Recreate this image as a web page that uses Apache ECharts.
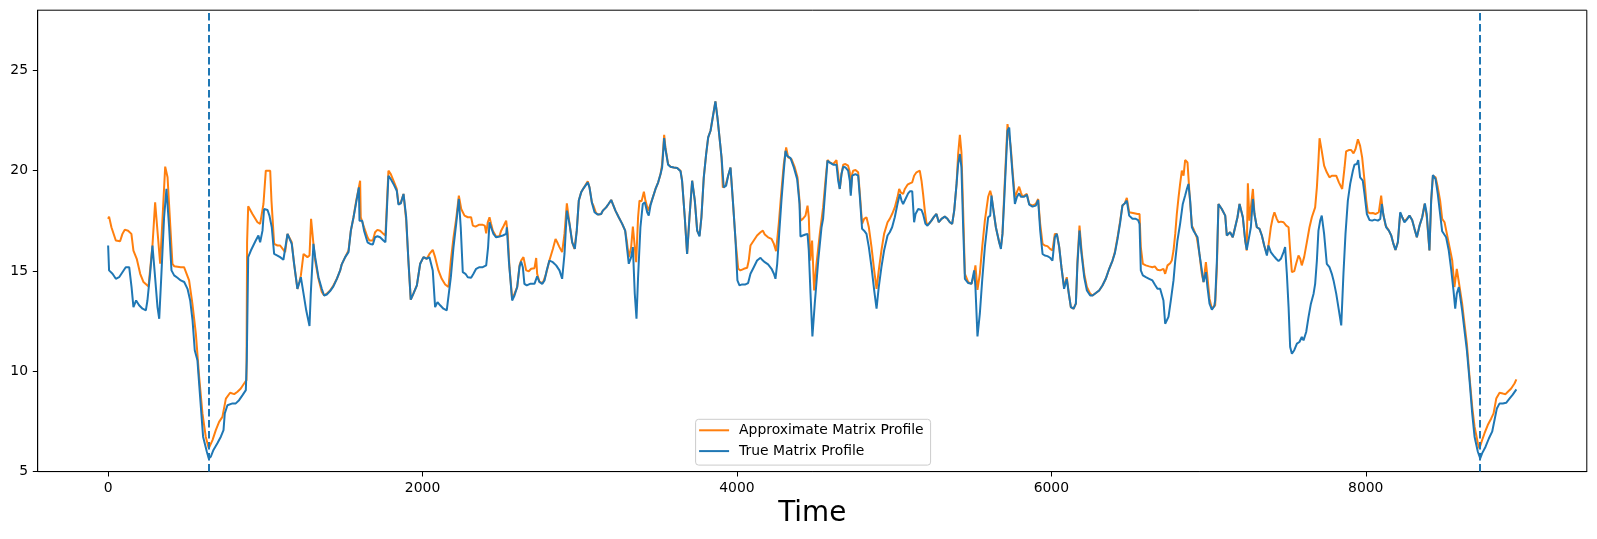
<!DOCTYPE html>
<html>
<head>
<meta charset="UTF-8">
<title>Matrix Profile</title>
<script src="https://cdn.jsdelivr.net/npm/echarts@6/dist/echarts.min.js"></script>
<style>
  html, body { margin: 0; padding: 0; background: #fff; }
  #main { width: 1597px; height: 539px; }
</style>
</head>
<body>
<div id="main"></div>
<script type="text/javascript">
// tick labels
var xTicks = [0, 2000, 4000, 6000, 8000];
var yTicks = [5, 10, 15, 20, 25];
// motif positions (dashed lines)
var motifIdx = [643, 8725];

// approximate matrix profile (orange)
var approxTime = [
  0, 6, 21, 49, 76, 91, 106, 127, 148, 161, 182, 204, 225, 257, 282, 299, 331, 363, 378, 409,
  420, 462, 483, 494, 515, 536, 558, 579, 600, 621, 640, 664, 685, 706, 727, 749, 776, 802, 823, 844,
  865, 880, 884, 891, 918, 950, 967, 988, 1003, 1031, 1039, 1056, 1077,
  1094, 1115, 1126, 1141, 1153, 1168, 1183, 1204, 1217, 1226, 1243, 1253, 1268, 1281, 1291, 1306, 1317, 1338,
  1359, 1374, 1391, 1412, 1433, 1455, 1476, 1486, 1508, 1529, 1544, 1561, 1578, 1595, 1603, 1607, 1616, 1628,
  1650, 1662, 1684, 1698, 1713, 1730, 1751, 1764, 1783, 1798, 1815, 1836, 1847, 1862, 1879, 1896, 1910, 1925,
  1942, 1964, 1985, 2006, 2027, 2044, 2065, 2080, 2101, 2122, 2144, 2165, 2180, 2197,
  2214, 2231, 2246, 2267, 2288, 2309, 2320, 2337, 2358, 2383, 2396, 2405, 2415, 2426, 2436, 2447, 2468, 2489,
  2500, 2515, 2532, 2542, 2553, 2570, 2585, 2602, 2617, 2627, 2642, 2659, 2676, 2691, 2712, 2723, 2729, 2744,
  2765, 2786, 2807, 2829, 2846, 2860, 2871, 2888, 2903, 2918, 2935, 2952, 2966, 2981, 2994, 3009, 3024, 3036,
  3051, 3062, 3077, 3087, 3104, 3121, 3136, 3147, 3168, 3183, 3200, 3210, 3227, 3248, 3270, 3289, 3299, 3312,
  3327, 3338,
  3344, 3359, 3371, 3380, 3393, 3408, 3418, 3435, 3450, 3465, 3482, 3499, 3514, 3524, 3537, 3545, 3562, 3577,
  3598, 3620, 3641, 3651, 3668, 3683, 3698, 3715, 3732, 3747, 3762, 3774, 3789, 3804, 3817, 3832, 3846, 3863,
  3876, 3889, 3902, 3910, 3927, 3944, 3959, 3974, 3991, 4008, 4022, 4044, 4065, 4075, 4086, 4107, 4128, 4150,
  4165, 4177, 4198, 4220, 4235, 4249, 4266, 4283, 4298, 4313, 4326, 4347, 4368, 4385, 4398, 4404, 4419, 4436,
  4449, 4457, 4466, 4478, 4491,
  4506, 4527, 4548, 4563, 4576, 4591, 4612, 4623, 4633, 4644, 4654, 4665, 4676, 4690, 4707, 4718, 4724, 4733,
  4739, 4754, 4771, 4782, 4796, 4809, 4824, 4839, 4856, 4873, 4888, 4902, 4919, 4936, 4958, 4972, 4987, 5004,
  5021, 5032, 5042, 5057, 5068, 5085, 5100, 5115, 5127, 5142, 5153, 5163, 5174, 5184, 5195, 5206, 5221, 5237,
  5254, 5269, 5284, 5301, 5322, 5339, 5354, 5369, 5382, 5397, 5407, 5418, 5428, 5439, 5450, 5471, 5492, 5509,
  5517, 5530, 5545, 5560, 5577,
  5598, 5611, 5619, 5632, 5647, 5668, 5679, 5689, 5700, 5710, 5721, 5732, 5742, 5753, 5768, 5780, 5795, 5806,
  5816, 5827, 5844, 5859, 5880, 5901, 5916, 5929, 5944, 5958, 5975, 5992, 6007, 6022, 6035, 6050, 6064, 6081,
  6098, 6111, 6124, 6141, 6156, 6166, 6179, 6192, 6209, 6226, 6247, 6262, 6283, 6304, 6325, 6346, 6368, 6389,
  6404, 6421, 6438, 6452, 6467, 6480, 6495, 6505, 6527, 6548, 6561, 6569, 6582, 6601, 6622, 6643, 6658, 6675,
  6692, 6703, 6713, 6724, 6739, 6756, 6766, 6777, 6788, 6798, 6809, 6819, 6830, 6841, 6851, 6866, 6879, 6894,
  6904, 6915, 6925, 6942, 6957, 6968, 6983, 6993, 7006, 7021, 7031, 7042, 7053, 7063, 7084, 7106, 7116, 7127,
  7137, 7154, 7169, 7184, 7197, 7207, 7218, 7233, 7243, 7250, 7260, 7269, 7282, 7292, 7307, 7324, 7339, 7354,
  7371, 7381, 7396, 7409, 7419, 7434, 7445, 7460, 7477, 7494, 7509, 7519, 7530, 7545, 7557, 7572, 7583, 7593,
  7608, 7625, 7642, 7657, 7678, 7689, 7699, 7706, 7720, 7735, 7752, 7769, 7784, 7795,
  7812, 7829, 7850, 7865, 7875, 7892, 7907, 7922, 7935, 7950, 7964, 7977, 7992, 8003, 8013, 8028, 8045, 8062,
  8083, 8098, 8109, 8126, 8147, 8162, 8176, 8189, 8204, 8219, 8232, 8246, 8261, 8278, 8295, 8310, 8325, 8342,
  8359, 8374, 8388, 8405, 8416, 8427, 8444, 8458, 8473, 8486, 8501, 8516, 8533, 8550, 8564, 8579, 8592, 8613,
  8628, 8643, 8660, 8677, 8692, 8713, 8723, 8740, 8755, 8776, 8798, 8813, 8830, 8851, 8872, 8889, 8904, 8925,
  8946, 8958
];
var approxValue = [
  17.60, 17.71, 17.18, 16.52, 16.48, 16.85, 17.06, 17.01, 16.85, 16.02, 15.61, 14.86, 14.45, 14.23, 16.27, 18.42, 15.36, 20.20, 19.67, 15.36,
  15.24, 15.19, 15.19, 15.11, 14.53, 13.37, 11.88, 9.72, 7.90, 6.74, 6.16, 6.57, 7.07, 7.48, 7.73, 8.64, 8.93, 8.86, 8.98, 9.14,
  9.39, 9.56, 16.43, 18.23, 17.84, 17.43, 17.35, 18.34, 20.00, 20.00, 18.51, 16.35, 16.27,
  16.27, 16.05, 15.94, 16.85, 16.88, 16.43, 15.36, 14.11, 14.45, 14.78, 15.85, 15.89, 15.69, 15.77, 17.60, 16.35, 15.52, 14.61,
  13.95, 13.78, 13.87, 14.03, 14.28, 14.61, 15.03, 15.33, 15.69, 16.02, 17.01, 17.68, 18.51, 19.17, 19.50, 17.68, 17.68, 17.18,
  16.68, 16.52, 16.52, 16.93, 17.05, 17.01, 16.85, 16.77, 20.00, 19.83, 19.50, 19.09, 18.34, 18.42, 18.84, 17.51, 15.52, 13.57,
  13.87, 14.28, 15.36, 15.69, 15.61, 15.85, 16.05, 15.69, 15.03, 14.61, 14.33, 14.20, 15.52, 16.68,
  17.60, 18.76, 18.09, 17.76, 17.68, 17.68, 17.26, 17.21, 17.30, 17.30, 17.26, 16.88, 17.43, 17.68, 17.35, 17.01, 16.72, 16.73,
  17.01, 17.23, 17.51, 16.85, 15.19, 13.62, 13.87, 14.20, 15.28, 15.52, 15.69, 15.03, 14.99, 15.11, 15.14, 15.65, 14.86, 14.45,
  14.40, 14.86, 15.52, 16.10, 16.60, 16.38, 16.19, 15.94, 16.85, 18.37, 17.35, 16.43, 16.10, 17.01, 18.51, 18.92, 19.12, 19.20,
  19.47, 19.17, 18.42, 18.26, 17.88, 17.81, 17.84, 18.01, 18.17, 18.34, 18.54, 18.34, 18.01, 17.68, 17.35, 17.01, 16.52, 15.69,
  16.19, 17.21,
  17.18, 15.44, 17.68, 18.51, 18.47, 18.95, 18.51, 18.01, 18.34, 18.67, 19.09, 19.42, 19.83, 20.33, 21.79, 21.16, 20.33, 20.20,
  20.16, 20.13, 20.00, 19.50, 17.68, 15.85, 17.68, 19.50, 18.51, 17.01, 16.77, 17.68, 19.67, 20.83, 21.66, 21.99, 22.65, 23.45,
  22.65, 21.66, 20.66, 19.17, 19.25, 19.75, 20.16, 18.51, 16.52, 15.11, 15.03, 15.11, 15.16, 15.52, 16.27, 16.52, 16.77, 16.93,
  17.01, 16.82, 16.68, 16.60, 16.35, 15.99, 17.35, 19.00, 20.33, 21.16, 20.66, 20.58, 20.16, 19.67, 18.51, 17.51, 17.60, 17.76,
  18.26, 17.68, 15.52, 16.52, 14.03,
  15.36, 16.85, 18.17, 19.50, 20.53, 20.41, 20.33, 20.41, 20.53, 19.83, 19.09, 19.83, 20.30, 20.33, 20.25, 19.92, 18.92, 19.83,
  20.00, 20.03, 19.92, 18.84, 17.35, 17.60, 17.68, 17.18, 16.19, 15.03, 14.11, 15.03, 16.02, 16.85, 17.43, 17.60, 17.84, 18.17,
  18.67, 19.09, 18.92, 18.84, 19.09, 19.30, 19.37, 19.42, 19.75, 19.92, 20.00, 20.00, 19.50, 18.84, 18.01, 17.35, 17.35, 17.51,
  17.71, 17.84, 17.43, 17.60, 17.71, 17.60, 17.43, 17.35, 18.01, 19.34, 20.83, 21.79, 20.91, 18.01, 14.86, 14.45, 14.36, 14.86,
  15.28, 14.06, 14.86, 16.19, 17.51,
  18.70, 19.00, 18.76, 18.01, 17.18, 16.43, 16.19, 16.85, 18.84, 20.50, 22.32, 22.40, 21.16, 20.00, 18.67, 18.92, 19.20, 18.92,
  18.70, 18.76, 18.84, 18.34, 18.26, 18.34, 18.59, 17.35, 16.35, 16.27, 16.24, 16.10, 16.02, 16.85, 16.85, 16.19, 15.19, 14.20,
  14.69, 13.87, 13.20, 13.12, 13.37, 15.52, 17.26, 16.02, 14.86, 14.20, 13.87, 13.78, 13.90, 14.03, 14.28, 14.61, 15.11, 15.52,
  15.94, 16.68, 17.51, 18.26, 18.37, 18.64, 17.93, 17.84, 17.88, 17.84, 17.84, 16.19, 15.36, 15.28, 15.23, 15.19, 15.23, 15.06,
  15.03, 15.06, 15.11, 14.86, 15.28, 15.39, 15.52, 16.02, 16.85, 17.84, 18.67, 19.34, 20.00, 19.75, 20.53, 20.41, 18.84, 17.26,
  17.10, 17.01, 16.68, 15.85, 14.86, 14.45, 15.44, 14.69, 13.62, 13.12, 13.12, 13.29, 15.19, 18.34, 18.09, 17.76, 16.77, 16.68,
  16.93, 16.68, 17.18, 17.68, 18.34, 18.37, 17.68, 16.52, 16.02, 19.37, 17.51, 17.51, 19.09, 17.84, 17.18, 17.10, 16.77, 16.27,
  15.85, 16.27, 17.18, 17.68, 17.93, 17.60, 17.43, 17.46, 17.43, 17.26, 17.18, 16.02, 14.94, 14.99, 15.36, 15.77, 15.61, 15.28,
  15.69, 16.43, 17.18, 17.68, 18.17, 19.17, 20.50, 21.62, 20.99, 20.25, 19.92, 19.67, 19.75, 19.83,
  19.75, 19.42, 19.09, 20.16, 20.96, 21.03, 21.03, 20.86, 21.08, 21.57, 21.24, 20.66, 19.50, 18.51, 17.93, 17.88, 17.89, 17.84,
  17.93, 18.76, 17.93, 17.26, 17.01, 16.77, 16.35, 16.05, 16.43, 17.88, 17.68, 17.48, 17.60, 17.76, 17.54, 17.10, 16.68, 17.26,
  17.68, 18.34, 17.68, 16.02, 18.51, 19.75, 19.67, 19.17, 18.51, 17.60, 17.43, 16.85, 16.19, 15.52, 14.20, 15.11, 14.45, 13.37,
  12.37, 11.38, 9.72, 8.23, 7.24, 6.41, 6.16, 6.57, 6.90, 7.32, 7.65, 7.90, 8.64, 8.93, 8.89, 8.86, 8.98, 9.14,
  9.39, 9.60
];

// true matrix profile (blue)
var trueTime = [
  0, 6, 28, 49, 70, 91, 112, 134, 149, 161, 178, 197, 219, 240, 250, 267, 282, 297, 314, 325,
  339, 356, 371, 388, 403, 420, 441, 462, 484, 505, 522, 537, 551, 568, 585, 604, 628, 640, 653, 670,
  695, 717, 734, 742, 759, 791, 812, 833, 855, 876, 882, 891, 908, 939, 956, 967, 982, 992, 1014, 1026,
  1041, 1056, 1077,
  1094, 1115, 1126, 1141, 1153, 1168, 1183, 1204, 1217, 1226, 1243, 1260, 1281, 1289, 1306, 1317, 1338, 1359,
  1374, 1391, 1412, 1433, 1455, 1476, 1486, 1508, 1529, 1544, 1561, 1578, 1595, 1599, 1616, 1628, 1650, 1667,
  1684, 1698, 1713, 1730, 1751, 1764, 1783, 1798, 1815, 1836, 1847, 1862, 1879, 1896, 1910, 1925, 1942, 1964,
  1985, 2006, 2027, 2044, 2065, 2080, 2095, 2112, 2133, 2154, 2165, 2180, 2197,
  2214, 2231, 2243, 2256, 2273, 2288, 2309, 2324, 2341, 2362, 2383, 2405, 2417, 2426, 2436, 2451, 2468, 2489,
  2511, 2532, 2536, 2549, 2570, 2585, 2602, 2617, 2627, 2638, 2648, 2663, 2684, 2712, 2723, 2729, 2744, 2761,
  2776, 2790, 2807, 2829, 2850, 2871, 2888, 2903, 2918, 2935, 2952, 2969, 2981, 2994, 3009, 3024, 3036, 3051,
  3062, 3077, 3094, 3115, 3136, 3147, 3168, 3183, 3200, 3210, 3227, 3248, 3270, 3289, 3299, 3312, 3327, 3338,
  3350, 3361, 3371, 3386, 3401, 3414, 3429, 3439, 3450, 3465, 3482, 3499, 3514, 3524, 3537, 3545, 3562, 3577,
  3598, 3620, 3641, 3651, 3668, 3683, 3698, 3715, 3732, 3747, 3762, 3774, 3789, 3804, 3817, 3832, 3846, 3863,
  3876, 3889, 3902, 3916, 3931, 3944, 3959, 3974, 3991, 4003, 4016, 4033, 4054, 4071, 4086, 4107, 4128, 4150,
  4160, 4177, 4198, 4220, 4235, 4245, 4256, 4270, 4283, 4298, 4309, 4319, 4341, 4362, 4383, 4398, 4404, 4419,
  4436, 4449, 4457, 4468, 4480,
  4495, 4517, 4538, 4548, 4559, 4576, 4591, 4612, 4623, 4633, 4644, 4654, 4665, 4676, 4690, 4707, 4718, 4724,
  4733, 4739, 4754, 4771, 4782, 4796, 4809, 4824, 4839, 4856, 4873, 4888, 4902, 4919, 4936, 4958, 4972, 4987,
  5004, 5021, 5036, 5047, 5057, 5072, 5089, 5100, 5115, 5127, 5136, 5153, 5174, 5184, 5199, 5212, 5237, 5254,
  5269, 5284, 5301, 5322, 5339, 5354, 5369, 5382, 5397, 5407, 5418, 5428, 5439, 5450, 5471, 5492, 5509, 5517,
  5530, 5545, 5560, 5577,
  5598, 5611, 5619, 5632, 5647, 5668, 5679, 5689, 5700, 5710, 5721, 5732, 5742, 5753, 5768, 5780, 5795, 5806,
  5827, 5844, 5859, 5880, 5901, 5916, 5929, 5944, 5958, 5975, 5992, 6007, 6022, 6035, 6050, 6064, 6081, 6098,
  6111, 6124, 6141, 6156, 6166, 6179, 6192, 6209, 6226, 6247, 6262, 6283, 6304, 6325, 6346, 6368, 6389, 6404,
  6421, 6438, 6452, 6467, 6480, 6495, 6516, 6537, 6552, 6561, 6569, 6582, 6601, 6622, 6643, 6658, 6675,
  6692, 6703, 6713, 6724, 6735, 6745, 6760, 6777, 6788, 6802, 6819, 6836, 6851, 6862, 6872, 6883, 6894, 6904,
  6915, 6930, 6942, 6957, 6968, 6983, 6993, 7006, 7021, 7036, 7042, 7053, 7063, 7084, 7106, 7116, 7127, 7137,
  7154, 7169, 7184, 7197, 7207, 7218, 7233, 7243, 7254, 7269, 7282, 7292, 7307, 7324, 7339, 7354, 7371, 7381,
  7396, 7413, 7430, 7445, 7460, 7477, 7487, 7498, 7509, 7519, 7530, 7545, 7562, 7578, 7593, 7604, 7621, 7636,
  7651, 7668, 7678, 7689, 7699, 7710, 7720, 7735, 7752, 7769, 7784, 7795,
  7812, 7829, 7844, 7858, 7871, 7886, 7901, 7918, 7928, 7943, 7952, 7964, 7981, 7992, 8007, 8024, 8041, 8056,
  8077, 8092, 8102, 8113, 8130, 8147, 8162, 8176, 8189, 8204, 8219, 8232, 8246, 8261, 8278, 8295, 8310, 8325,
  8342, 8359, 8376, 8388, 8405, 8416, 8427, 8444, 8458, 8473, 8486, 8494, 8511, 8528, 8543, 8558, 8569, 8579,
  8592, 8613, 8628, 8643, 8660, 8677, 8692, 8713, 8728, 8740, 8762, 8783, 8804, 8819, 8834, 8851, 8872, 8893,
  8914, 8935, 8958
];
var trueValue = [
  16.27, 15.03, 14.86, 14.61, 14.69, 14.94, 15.19, 15.19, 14.20, 13.20, 13.53, 13.29, 13.12, 13.04, 13.53, 14.86, 16.27, 14.86, 13.20, 12.62,
  14.86, 17.68, 19.09, 17.18, 15.03, 14.78, 14.66, 14.53, 14.45, 14.11, 13.53, 12.54, 11.05, 10.55, 8.73, 6.74, 5.99, 5.66, 5.74, 6.08,
  6.41, 6.74, 7.07, 7.90, 8.31, 8.40, 8.40, 8.56, 8.81, 9.06, 10.55, 15.69, 16.02, 16.52, 16.77, 16.43, 17.01, 18.09, 18.04, 17.76,
  17.18, 15.85, 15.77,
  15.69, 15.56, 15.52, 16.85, 16.82, 16.35, 15.36, 14.11, 14.45, 14.69, 13.87, 13.04, 12.26, 13.87, 16.35, 15.69, 14.69, 14.11,
  13.78, 13.83, 14.00, 14.23, 14.61, 15.03, 15.33, 15.69, 15.94, 17.01, 17.68, 18.42, 19.17, 17.51, 17.51, 17.01, 16.43, 16.35,
  16.32, 16.68, 16.73, 16.68, 16.52, 16.43, 19.75, 19.58, 19.34, 19.00, 18.31, 18.37, 18.84, 17.68, 15.52, 13.57, 13.87, 14.28,
  15.36, 15.69, 15.61, 15.69, 15.03, 13.20, 13.45, 13.29, 13.12, 13.04, 13.04, 14.69, 16.19,
  17.35, 18.59, 17.18, 14.94, 14.86, 14.69, 14.66, 14.86, 15.11, 15.19, 15.19, 15.28, 16.19, 17.43, 17.18, 16.85, 16.68, 16.72,
  16.77, 16.85, 17.18, 15.52, 13.53, 13.78, 14.20, 15.22, 15.47, 15.19, 14.36, 14.28, 14.36, 14.36, 14.40, 14.73, 14.45, 14.36,
  14.53, 15.03, 15.52, 15.44, 15.28, 15.03, 14.61, 15.85, 18.01, 17.35, 16.43, 16.10, 17.01, 18.51, 18.92, 19.12, 19.17, 19.42,
  19.17, 18.42, 17.93, 17.81, 17.84, 18.01, 18.17, 18.34, 18.54, 18.34, 18.01, 17.68, 17.35, 17.01, 16.27, 15.36, 15.69, 16.19,
  13.87, 12.62, 14.69, 17.18, 18.34, 18.42, 17.93, 17.76, 18.26, 18.67, 19.09, 19.42, 19.83, 20.16, 21.62, 21.08, 20.30, 20.20,
  20.16, 20.13, 19.97, 19.50, 17.68, 15.85, 17.68, 19.50, 18.51, 17.01, 16.72, 17.68, 19.67, 20.83, 21.66, 21.99, 22.65, 23.45,
  22.65, 21.66, 20.66, 19.17, 19.25, 19.75, 20.16, 18.51, 16.52, 14.53, 14.28, 14.33, 14.33, 14.40, 14.86, 15.19, 15.52, 15.66,
  15.56, 15.44, 15.33, 15.11, 14.86, 14.61, 15.36, 17.01, 18.51, 20.00, 20.99, 20.74, 20.63, 20.16, 19.58, 18.34, 16.72, 16.77,
  16.82, 16.85, 16.02, 13.87, 11.74,
  13.37, 15.52, 17.18, 17.60, 17.68, 20.50, 20.40, 20.30, 20.33, 20.30, 19.50, 19.09, 19.83, 20.20, 20.16, 20.00, 19.50, 18.76,
  19.75, 19.83, 19.83, 19.75, 18.67, 17.10, 17.01, 16.85, 16.19, 15.19, 14.03, 13.12, 14.20, 15.19, 16.02, 16.77, 16.93, 17.18,
  17.68, 18.34, 18.84, 18.51, 18.34, 18.59, 18.87, 18.97, 18.97, 17.43, 17.84, 18.09, 18.04, 17.84, 17.35, 17.26, 17.51, 17.71,
  17.84, 17.43, 17.60, 17.71, 17.60, 17.43, 17.35, 18.01, 19.34, 20.33, 20.83, 20.16, 17.18, 14.61, 14.40, 14.36, 15.03, 14.20,
  11.74, 12.87, 14.53, 16.19,
  17.68, 17.76, 18.76, 18.01, 17.18, 16.43, 16.10, 16.85, 18.51, 20.16, 21.99, 22.15, 20.99, 19.83, 18.34, 18.67, 18.87, 18.70,
  18.70, 18.80, 18.31, 18.21, 18.26, 18.54, 17.01, 15.85, 15.77, 15.74, 15.66, 15.52, 16.68, 16.85, 16.19, 15.19, 14.11, 14.61,
  13.87, 13.20, 13.12, 13.37, 15.36, 17.01, 15.85, 14.69, 14.03, 13.78, 13.78, 13.90, 14.03, 14.28, 14.61, 15.11, 15.52, 15.89,
  16.60, 17.43, 18.26, 18.37, 18.51, 17.76, 17.60, 17.60, 17.54, 17.35, 15.03, 14.78, 14.69, 14.61, 14.53, 14.33, 14.11,
  14.11, 14.11, 13.53, 12.37, 12.29, 12.71, 13.53, 14.53, 15.52, 16.52, 17.35, 18.34, 18.76, 19.09, 19.34, 18.51, 17.18, 17.01,
  17.05, 16.68, 15.85, 15.03, 14.45, 14.94, 14.20, 13.37, 13.07, 13.24, 13.53, 15.52, 18.34, 18.09, 17.76, 16.77, 16.68, 16.93,
  16.68, 17.18, 17.68, 18.34, 18.37, 17.68, 16.52, 16.05, 16.10, 17.18, 18.59, 17.84, 17.18, 17.10, 16.77, 16.27, 15.77, 16.27,
  15.94, 15.77, 15.61, 15.49, 15.61, 15.94, 16.19, 14.86, 13.20, 11.21, 10.88, 11.05, 11.38, 11.46, 11.71, 11.54, 11.96, 12.71,
  13.37, 13.87, 14.36, 15.52, 17.01, 17.51, 17.76, 16.85, 15.36, 15.19, 14.86, 14.53,
  13.87, 13.04, 12.29, 14.86, 16.85, 18.51, 19.34, 20.00, 20.30, 20.33, 20.53, 19.67, 19.50, 18.84, 17.84, 17.54, 17.51, 17.56,
  17.51, 17.60, 18.34, 17.76, 17.18, 17.01, 16.77, 16.35, 16.05, 16.43, 17.93, 17.68, 17.43, 17.56, 17.76, 17.54, 17.10, 16.68,
  17.26, 17.68, 18.37, 17.84, 16.02, 18.51, 19.78, 19.58, 18.84, 17.84, 16.98, 16.98, 16.68, 16.02, 15.11, 14.03, 13.12, 13.87,
  14.20, 13.04, 12.04, 11.05, 9.56, 7.90, 6.74, 5.99, 5.66, 5.91, 6.24, 6.65, 6.99, 7.57, 8.15, 8.40, 8.40, 8.43,
  8.64, 8.84, 9.10
];

function pairs(t, v) {
    var out = [];
    for (var i = 0; i < t.length; i++) {
        out.push([t[i], v[i]]);
    }
    return out;
}

var font = 'DejaVu Sans';
var myChart = echarts.init(document.getElementById('main'));

option = {
    animation: false,
    backgroundColor: '#fff',
    grid: {
        left: 37.7,
        right: 10.2,
        top: 10.2,
        bottom: 67.4,
        show: true,
        borderColor: '#000',
        borderWidth: 1,
        containLabel: false,
        outerBoundsMode: 'none'
    },
    legend: {
        orient: 'vertical',
        left: 695.6,
        top: 419.3,
        padding: [4, 7, 7, 3.5],
        itemGap: 6.8,
        itemWidth: 30,
        itemHeight: 2,
        icon: 'rect',
        selectedMode: false,
        backgroundColor: 'rgba(255,255,255,0.8)',
        borderColor: '#cccccc',
        borderWidth: 1,
        borderRadius: 3,
        textStyle: {
            fontFamily: font,
            fontSize: 13.9,
            color: '#000',
            padding: [0, 0, 0, 5]
        },
        data: ['Approximate Matrix Profile', 'True Matrix Profile']
    },
    xAxis: {
        type: 'value',
        min: -448,
        max: 9406,
        name: 'Time',
        nameLocation: 'middle',
        nameGap: 27,
        nameTextStyle: {fontFamily: font, fontSize: 27.8, color: '#000'},
        axisLine: {show: true, onZero: false, lineStyle: {color: '#000', width: 1}},
        axisTick: {show: true, inside: false, length: 4.9, customValues: xTicks,
                   lineStyle: {color: '#000', width: 1}},
        axisLabel: {customValues: xTicks, margin: 9.7, fontFamily: font, fontSize: 13.9, color: '#000',
                    formatter: function (v) { return String(v); }},
        splitLine: {show: false}
    },
    yAxis: {
        type: 'value',
        min: 5,
        max: 28,
        axisLine: {show: true, onZero: false, lineStyle: {color: '#000', width: 1}},
        axisTick: {show: true, inside: false, length: 4.9, customValues: yTicks,
                   lineStyle: {color: '#000', width: 1}},
        axisLabel: {customValues: yTicks, margin: 9.7, fontFamily: font, fontSize: 13.9, color: '#000',
                    formatter: function (v) { return String(v); }},
        splitLine: {show: false}
    },
    series: [
        {
            name: 'Approximate Matrix Profile',
            type: 'line',
            data: pairs(approxTime, approxValue),
            showSymbol: false,
            symbol: 'none',
            silent: true,
            color: '#ff7f0e',
            lineStyle: {color: '#ff7f0e', width: 2},
            z: 2
        },
        {
            name: 'True Matrix Profile',
            type: 'line',
            data: pairs(trueTime, trueValue),
            showSymbol: false,
            symbol: 'none',
            silent: true,
            color: '#1f77b4',
            lineStyle: {color: '#1f77b4', width: 2},
            z: 3,
            markLine: {
                silent: true,
                symbol: ['none', 'none'],
                label: {show: false},
                lineStyle: {color: '#1f77b4', width: 2, type: [7.7, 3.3]},
                data: motifIdx.map(function (x) { return {xAxis: x}; })
            }
        }
    ]
};
myChart.setOption(option);
</script>
</body>
</html>
